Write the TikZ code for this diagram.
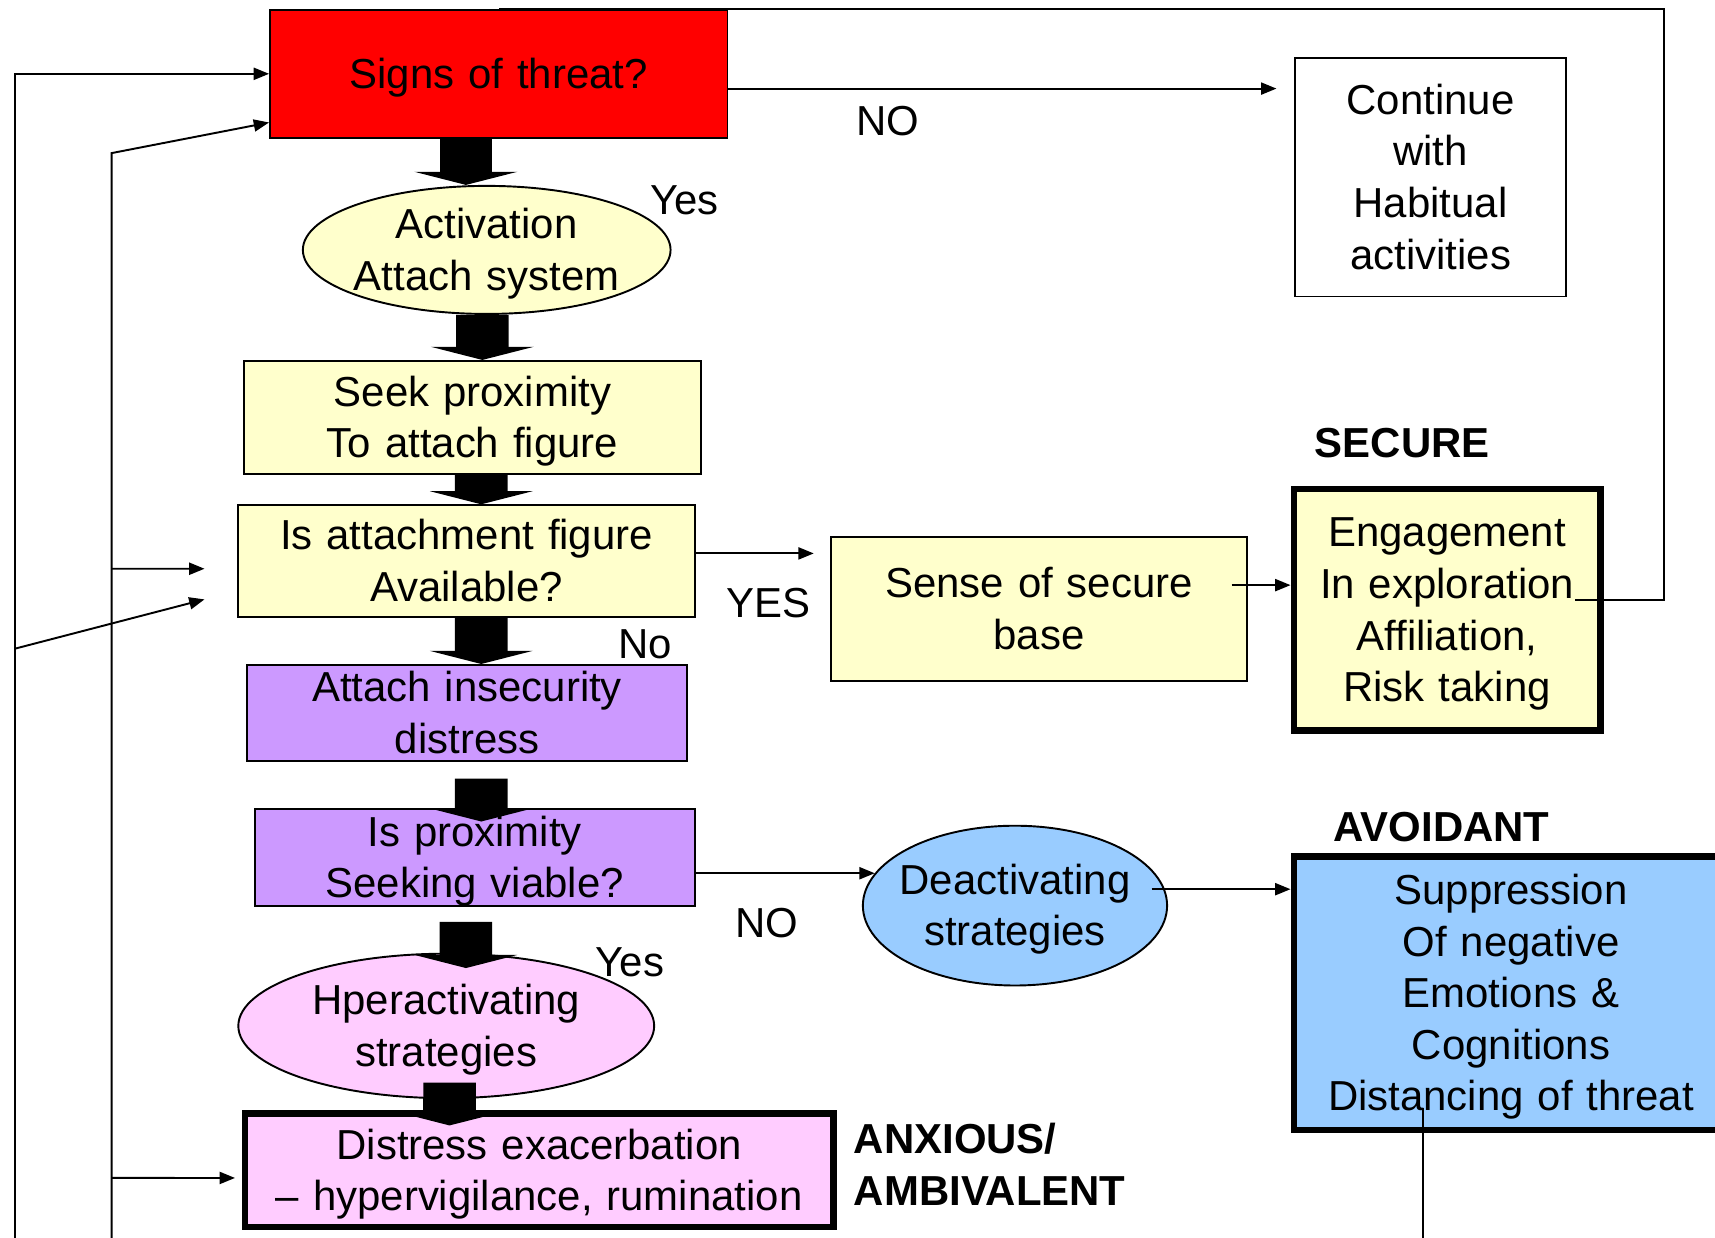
\documentclass[tikz,border=0pt]{standalone}
\usepackage{fontspec}
\setmainfont{Liberation Sans}
\usetikzlibrary{arrows.meta, shapes.geometric, calc}

\definecolor{threat}{HTML}{FF0000}
\definecolor{paleyellow}{HTML}{FFFFCC}
\definecolor{lilac}{HTML}{CC99FF}
\definecolor{pinkish}{HTML}{FFCCFF}
\definecolor{skyblue}{HTML}{99CCFF}
\newcommand\ppstrut{\rule[-0.212em]{0pt}{1.117em}}

\begin{document}
\begin{tikzpicture}[x=0.01cm, y=-0.01cm,
    every node/.style={font=\fontsize{10.9}{13.4}\selectfont, align=center, inner sep=0pt},
    box/.style 2 args={rectangle, draw, line width=0.5pt, inner sep=-1mm,
      minimum width=#1, text width=#1, minimum height=#2,
      font=\fontsize{10.9}{13.4}\selectfont\noindent\ppstrut, execute at end node=\ppstrut},
    oval/.style n args={3}{ellipse, draw, line width=0.5pt, inner sep=-1.2mm,
      minimum width=#1, minimum height=#2, text width=#3,
      font=\fontsize{10.9}{13.4}\selectfont\noindent\ppstrut, execute at end node=\ppstrut},
    heavy/.style={line width=1.7pt},
    tag/.style={font=\fontsize{10.9}{13.4}\selectfont\bfseries},
    arr/.style={line width=0.5pt, -{Triangle[length=1.4mm, width=1.1mm]}},
    fat/.style={line width=4.8mm, -{Triangle[width=9.4mm, length=1.2mm, line width=0pt]}}]
      \useasboundingbox (0, 0) rectangle (1568, 1131);

      % main column
      \node[box={4.18cm}{1.17cm}, fill=threat] (sign) at (456, 67.5) {Signs of threat?};
      \node[oval={3.36cm}{1.17cm}{2.6cm}, fill=paleyellow] (ell1) at (445, 228.5) {Activation\\Attach system};
      \node[box={4.18cm}{1.03cm}, fill=paleyellow] (seek) at (432, 381.5) {Seek proximity\\To attach figure};
      \node[box={4.17cm}{1.02cm}, fill=paleyellow] (avail) at (426.5, 513) {Is attachment figure\\Available?};
      \node[box={4.02cm}{0.88cm}, fill=lilac] (insec) at (427, 652) {Attach insecurity\\distress};
      \node[box={4.02cm}{0.88cm}, fill=lilac] (viable) at (434, 784) {Is proximity\\Seeking viable?};
      \node[oval={3.80cm}{1.32cm}{2.6cm}, fill=pinkish] (hyper) at (408, 938) {Hperactivating\\strategies};
      \node[box={5.38cm}{1.04cm}, heavy, fill=pinkish] (distress) at (493, 1070) {Distress exacerbation\\– hypervigilance, rumination};

      % right side
      \node[box={2.48cm}{2.18cm}] (cont) at (1308, 162) {Continue\\with\\Habitual\\activities};
      \node[box={3.80cm}{1.32cm}, fill=paleyellow] (secure) at (950, 557) {Sense of secure\\base};
      \node[box={2.80cm}{2.21cm}, heavy, fill=paleyellow] (engage) at (1323, 557.5) {Engagement\\In exploration\\Affiliation,\\Risk taking};
      \node[oval={2.78cm}{1.46cm}{2.2cm}, fill=skyblue] (deact) at (928, 828) {Deactivating\\strategies};
      \node[box={3.97cm}{2.50cm}, heavy, fill=skyblue] (supp) at (1381.5, 908) {Suppression\\Of negative\\Emotions \&\\Cognitions\\Distancing of threat};

      % labels
      \node (yes1) at (626, 183) {Yes};
      \node (no1) at (812, 111) {NO};
      \node (yes2) at (703, 551) {YES};
      \node (no2) at (590, 589) {No};
      \node (no3) at (701, 844) {NO};
      \node (yes3) at (576, 880) {Yes};
      \node[tag] (securelbl) at (1282, 405) {SECURE};
      \node[tag] (avoidlbl) at (1318, 756) {AVOIDANT};
      \node[tag, anchor=west, align=left] (anxlbl) at (780, 1064.5) {ANXIOUS/\\AMBIVALENT};

      \coordinate (la) at (14, 1140);
      \coordinate (la1) at (14, 593);
      \coordinate (lb) at (102, 1140);
      \coordinate (lb1) at (102, 140);
      \coordinate (lb2) at (102, 520);
      \coordinate (lb3) at (102, 1077);
      \coordinate (loopR) at (1521, 8);
      \coordinate (bot) at (0, 1140);

      % fat arrows down the column
      \draw[fat] ([xshift=-3mm]sign.south) -- ([xshift=-3mm]sign.south |- ell1.north);
      \draw[fat] ([xshift=-0.4mm]ell1.south) -- ([xshift=0.9mm]seek.north);
      \draw[fat] ([xshift=0.8mm]seek.south) -- ([xshift=1.35mm]avail.north);
      \draw[fat] ([xshift=1.35mm]avail.south) -- ([xshift=1.3mm]insec.north);
      \draw[fat] ([shift={(1.3mm,-1.5mm)}]insec.south) -- ([shift={(0.6mm,-1.2mm)}]viable.north);
      \draw[fat] ([shift={(-0.8mm,-1.4mm)}]viable.south) -- ([shift={(1.8mm,-1.4mm)}]hyper.north);
      \draw[fat] ([shift={(0.3mm,1.5mm)}]hyper.south) -- ([shift={(-8.2mm,-1.4mm)}]distress.north);

      % thin arrows
      \draw[arr, shorten >=1.6mm] ([yshift=-1.35mm]sign.east) -- ([yshift=-1.35mm]sign.east -| cont.west);
      \draw[arr, shorten >=1.5mm] ([yshift=0.7mm]avail.east) -- ([yshift=0.7mm]avail.east -| secure.west);
      \draw[arr] ([shift={(-1.5mm,2.2mm)}]secure.east) -- ([yshift=2.2mm]secure.east -| engage.west);
      \draw[arr] (viable.east |- deact.167) -- (deact.167);
      \draw[arr] ([shift={(-1.5mm,1.5mm)}]deact.east) -- ([yshift=1.5mm]deact.east -| supp.west);
      \draw[line width=0.5pt] ([shift={(-2.6mm,0.85mm)}]engage.east) -| (loopR) -- (loopR -| sign.north);
      \draw[line width=0.5pt] ([shift={(-8.05mm,2.3mm)}]supp.south) -- ([xshift=-8.05mm]supp.south |- bot);

      % feedback lines on the left
      \draw[arr] (la) |- (sign.west);
      \draw[arr] (la1) -- ([shift={(-3mm,-3.5mm)}]avail.west);
      \draw[arr] (lb) -- (lb1) -- ([yshift=-4.45mm]sign.west);
      \draw[arr] (lb2) -- ([shift={(-3mm,-0.7mm)}]avail.west);
      \draw[arr, shorten >=0.6mm] (lb3) -- ([yshift=-0.7mm]distress.west);
    \end{tikzpicture}
\end{document}
